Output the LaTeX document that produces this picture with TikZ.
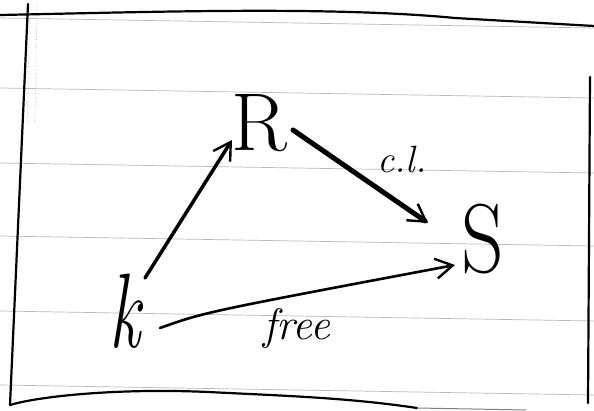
\documentclass[tikz,border=0pt]{standalone}
\usepackage{fontspec}
\usepackage{graphicx}
\usetikzlibrary{arrows.meta}
\begin{document}
\begin{tikzpicture}[x=1pt,y=-1pt,
  rule/.style={gray!55,line width=0.7pt},
  frame/.style={black,line width=2.2pt,line cap=round,line join=round},
  obj/.style={inner sep=0pt},
  lab/.style={font=\itshape, inner sep=0pt},
  arr/.style={line width=3pt,line cap=round,-{Straight Barb[length=17pt,width=20pt,line width=2.4pt]}}]
\useasboundingbox (0,0) rectangle (594,411);
% ruled lines
\foreach \y in {18,88,163,236,311,385}
  \draw[rule] (0,\y) -- (594,\y+10);
\draw[rule,dotted] (30,4) -- (27,125);
\draw[rule,dotted] (37,4) -- (35,125);
% frame
\draw[frame] (0,15) .. controls (150,12) and (330,6) .. (455,18) -- (594,26);
\draw[frame] (28,4) -- (10,405);
\draw[frame] (10,405) .. controls (40,396) and (120,388) .. (208,392)
  .. controls (290,396) and (350,398) .. (417,408);
\draw[frame,line width=1pt,gray] (417,408) -- (526,410);
\draw[frame] (590,77) -- (588,403);
% nodes
\node[obj,font=\fontsize{82}{82}\selectfont] (R) at (259,123) {R};
\node[obj,font=\fontsize{98}{98}\selectfont] (S) at (483,239) {\scalebox{0.85}[1]{S}};
\node[obj,font=\itshape\fontsize{106}{106}\selectfont] (k) at (125,311) {\scalebox{0.65}[1]{k}};
% connectors
\draw[arr,line width=3.5pt] ([shift={(20,-33)}]k.center) -- ([shift={(-27,17)}]R.center);
\draw[arr,line width=5pt] ([shift={(34,7)}]R.center) -- ([shift={(-55,-16)}]S.center);
\draw[arr,line width=2.6pt] ([shift={(35,17)}]k.center) .. controls (205,312) .. ([shift={(-28,26)}]S.center);
% labels
\node[lab,font=\itshape\fontsize{38}{38}\selectfont] (cl) at (402,160) {c.l.};
\node[lab,font=\itshape\fontsize{44}{44}\selectfont,anchor=base] (free) at (297,340) {free};
\end{tikzpicture}
\end{document}
